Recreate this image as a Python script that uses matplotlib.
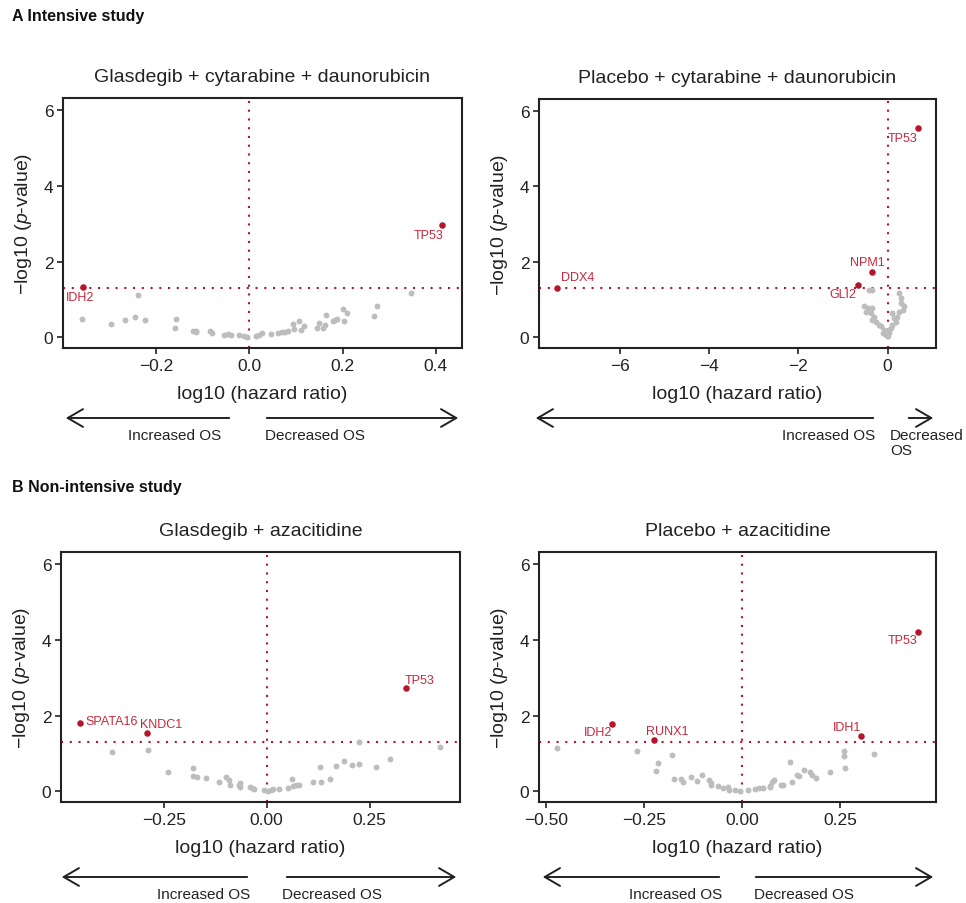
import numpy as np
import matplotlib
matplotlib.use("Agg")
import matplotlib.pyplot as plt
from matplotlib.patches import FancyArrowPatch

plt.rcParams["font.family"] = ["Liberation Sans", "DejaVu Sans"]
plt.rcParams["mathtext.fontset"] = "custom"
plt.rcParams["mathtext.rm"] = "Liberation Sans"
plt.rcParams["mathtext.it"] = "Liberation Sans:italic"

# ---- data: log10(HR), -log10(p) ----
# A, glasdegib + cytarabine + daunorubicin
a_gla_x = [-0.359, -0.297, -0.267, -0.244, -0.239, -0.224, -0.157, -0.158, -0.120, -0.113,
           -0.115, -0.084, -0.079, -0.053, -0.046, -0.039, -0.021, -0.012, -0.004, 0.014,
           0.021, 0.027, 0.047, 0.061, 0.071, 0.077, 0.084, 0.094, 0.097, 0.107,
           0.110, 0.118, 0.146, 0.150, 0.159, 0.162, 0.165, 0.179, 0.184, 0.189,
           0.200, 0.204, 0.209, 0.267, 0.273, 0.347]
a_gla_y = [0.48, 0.35, 0.47, 0.53, 1.13, 0.47, 0.48, 0.24, 0.16, 0.18,
           0.15, 0.16, 0.12, 0.06, 0.09, 0.07, 0.05, 0.04, 0.01, 0.04,
           0.06, 0.11, 0.09, 0.11, 0.13, 0.14, 0.18, 0.35, 0.22, 0.43,
           0.20, 0.29, 0.25, 0.37, 0.26, 0.33, 0.60, 0.42, 0.46, 0.48,
           0.75, 0.42, 0.65, 0.56, 0.83, 1.16]
a_gla_genes = ["IDH2", "TP53"]
a_gla_gx = [-0.357, 0.414]
a_gla_gy = [1.34, 2.96]

# A, placebo + cytarabine + daunorubicin
a_pla_x = [-0.41, -0.34, -0.52, -0.45, -0.34, -0.49, -0.37, -0.34, -0.26, -0.30,
           -0.19, -0.15, -0.07, -0.11, -0.04, 0.00, 0.04, 0.07, 0.11, 0.15,
           0.11, 0.22, 0.26, 0.34, 0.37, 0.30, 0.30, 0.26, 0.19, 0.04]
a_pla_y = [1.25, 1.25, 0.82, 0.77, 0.77, 0.68, 0.64, 0.46, 0.42, 0.55,
           0.33, 0.29, 0.20, 0.11, 0.07, 0.03, 0.11, 0.25, 0.33, 0.51,
           0.64, 0.55, 0.68, 0.73, 0.82, 0.90, 1.04, 1.17, 0.42, 0.20]
a_pla_genes = ["TP53", "NPM1", "GLI2", "DDX4"]
a_pla_gx = [0.68, -0.36, -0.67, -7.42]
a_pla_gy = [5.53, 1.73, 1.39, 1.30]

# B, glasdegib + azacitidine
b_gla_x = [-0.376, -0.288, -0.240, -0.180, -0.178, -0.170, -0.148, -0.115, -0.099, -0.092,
           -0.089, -0.068, -0.066, -0.065, -0.041, -0.035, -0.030, -0.006, 0.004, 0.010,
           0.016, 0.030, 0.053, 0.062, 0.063, 0.071, 0.079, 0.112, 0.130, 0.131,
           0.153, 0.169, 0.188, 0.207, 0.224, 0.224, 0.265, 0.301, 0.421]
b_gla_y = [1.04, 1.08, 0.52, 0.62, 0.40, 0.38, 0.36, 0.24, 0.37, 0.30,
           0.16, 0.18, 0.12, 0.21, 0.11, 0.10, 0.06, 0.03, 0.02, 0.03,
           0.05, 0.06, 0.10, 0.32, 0.15, 0.17, 0.18, 0.26, 0.63, 0.24,
           0.33, 0.67, 0.80, 0.69, 1.29, 0.71, 0.64, 0.86, 1.16]
b_gla_genes = ["SPATA16", "KNDC1", "TP53"]
b_gla_gx = [-0.455, -0.290, 0.339]
b_gla_gy = [1.79, 1.53, 2.72]

# B, placebo + azacitidine
b_pla_x = [-0.472, -0.268, -0.179, -0.213, -0.220, -0.173, -0.156, -0.150, -0.129, -0.114,
           -0.102, -0.084, -0.080, -0.079, -0.060, -0.049, -0.035, -0.033, -0.018, -0.005,
           0.014, 0.034, 0.044, 0.053, 0.070, 0.071, 0.077, 0.082, 0.099, 0.104,
           0.121, 0.128, 0.139, 0.146, 0.159, 0.173, 0.178, 0.189, 0.223, 0.259,
           0.259, 0.261, 0.336]
b_pla_y = [1.15, 1.06, 0.95, 0.74, 0.55, 0.33, 0.33, 0.26, 0.38, 0.27,
           0.43, 0.29, 0.17, 0.23, 0.15, 0.10, 0.11, 0.04, 0.04, 0.02,
           0.04, 0.05, 0.08, 0.10, 0.15, 0.11, 0.26, 0.29, 0.17, 0.17,
           0.77, 0.26, 0.44, 0.41, 0.56, 0.52, 0.43, 0.36, 0.52, 1.06,
           0.92, 0.62, 0.99]
b_pla_genes = ["IDH2", "RUNX1", "IDH1", "TP53"]
b_pla_gx = [-0.331, -0.223, 0.302, 0.448]
b_pla_gy = [1.78, 1.35, 1.47, 4.20]

W, H = 966, 904
GREY = "#bdbdbd"
RED = "#b5162b"
LABEL_RED = "#c8283c"
INK = "#222222"

fig = plt.figure(figsize=(W / 100, H / 100), dpi=100)


def px_axes(l, t, r, b):
    return fig.add_axes([l / W, 1 - b / H, (r - l) / W, (b - t) / H])


def fx(x):
    return x / W


def fy(y):
    return 1 - y / H


def panel(box, title, xs, ys, gx, gy, genes, offsets, xlim, xticks, xticklabels):
    ax = px_axes(*box)
    ax.scatter(xs, ys, s=18, color=GREY, linewidths=0, zorder=2)
    ax.axvline(0, color=RED, ls=(0, (1, 3.2)), lw=1.5, zorder=1)
    ax.axhline(-np.log10(0.05), color=RED, ls=(0, (1, 3.2)), lw=1.5, zorder=1)
    ax.scatter(gx, gy, s=22, color=RED, linewidths=0, zorder=3)
    for g, x, y, off in zip(genes, gx, gy, offsets):
        ax.annotate(g, (x, y), xytext=off[:2], textcoords="offset points",
                    ha=off[2] if len(off) > 2 else "center", va="center",
                    fontsize=9, color=LABEL_RED)
    ax.set_xlim(*xlim)
    ax.set_ylim(-0.28, 6.31)
    ax.set_xticks(xticks)
    ax.set_xticklabels(xticklabels)
    ax.set_yticks([0, 2, 4, 6])
    ax.tick_params(labelsize=12.5, length=4, width=1.2, color=INK,
                   labelcolor=INK, pad=3)
    for sp in ax.spines.values():
        sp.set_linewidth(1.5)
        sp.set_color(INK)
    ax.set_title(title, fontsize=14, pad=12.5, color=INK)
    ax.set_xlabel("log10 (hazard ratio)", fontsize=14, color=INK, labelpad=9)
    ax.set_ylabel("\u2212log10 ($\\mathit{p}$-value)", fontsize=14,
                  color=INK, labelpad=7)
    return ax


def arrows(y, left, gap_l, gap_r, right, t_left, x_tl, t_right, x_tr, ty):
    for a, b in [((gap_l, y), (left, y)), ((gap_r, y), (right, y))]:
        fig.add_artist(FancyArrowPatch((fx(a[0]), fy(a[1])), (fx(b[0]), fy(b[1])),
                                       transform=fig.transFigure,
                                       arrowstyle="->,head_length=0.55,head_width=0.32",
                                       mutation_scale=20, lw=1.4, color=INK))
    fig.text(fx(x_tl), fy(ty), t_left, ha="right", va="top", fontsize=11, color=INK)
    fig.text(fx(x_tr), fy(ty), t_right, ha="left", va="top", fontsize=11,
             color=INK, linespacing=1.05)


m = "\u2212"
panel((63, 99, 462, 349), "Glasdegib + cytarabine + daunorubicin",
      a_gla_x, a_gla_y, a_gla_gx, a_gla_gy, a_gla_genes,
      [(-1.5, -7.5), (-10, -7)],
      (-0.399, 0.456), [-0.2, 0, 0.2, 0.4], [m + "0.2", "0.0", "0.2", "0.4"])
panel((539, 100, 936, 349), "Placebo + cytarabine + daunorubicin",
      a_pla_x, a_pla_y, a_pla_gx, a_pla_gy, a_pla_genes,
      [(-11, -7), (-3, 7), (-11, -6.5), (15, 8)],
      (-7.82, 1.086), [-6, -4, -2, 0], [m + "6", m + "4", m + "2", "0"])
panel((61, 553, 460, 803), "Glasdegib + azacitidine",
      b_gla_x, b_gla_y, b_gla_gx, b_gla_gy, b_gla_genes,
      [(4, 1.5, "left"), (10, 7), (10, 6)],
      (-0.500, 0.470), [-0.25, 0, 0.25], [m + "0.25", "0.00", "0.25"])
panel((539, 553, 936, 803), "Placebo + azacitidine",
      b_pla_x, b_pla_y, b_pla_gx, b_pla_gy, b_pla_genes,
      [(-10, -6), (9.5, 6.5), (-10, 6.5), (-11, -6)],
      (-0.517, 0.494), [-0.5, -0.25, 0, 0.25], [m + "0.50", m + "0.25", "0.00", "0.25"])

arrows(419, 63, 232, 264, 461, "Increased OS", 221, "Decreased OS", 265, 429)
arrows(419, 533, 876, 906, 936, "Increased OS", 875, "Decreased\nOS", 890, 429)
arrows(878, 59, 250, 284, 459, "Increased OS", 250, "Decreased OS", 282, 888)
arrows(878, 540, 722, 753, 936, "Increased OS", 722, "Decreased OS", 754, 888)

fig.text(fx(12), fy(17), "A Intensive study", fontsize=11.5, fontweight="bold",
         ha="left", va="center", color="#111111")
fig.text(fx(12), fy(488), "B Non-intensive study", fontsize=11.5, fontweight="bold",
         ha="left", va="center", color="#111111")

fig.savefig("out.png", dpi=100)
